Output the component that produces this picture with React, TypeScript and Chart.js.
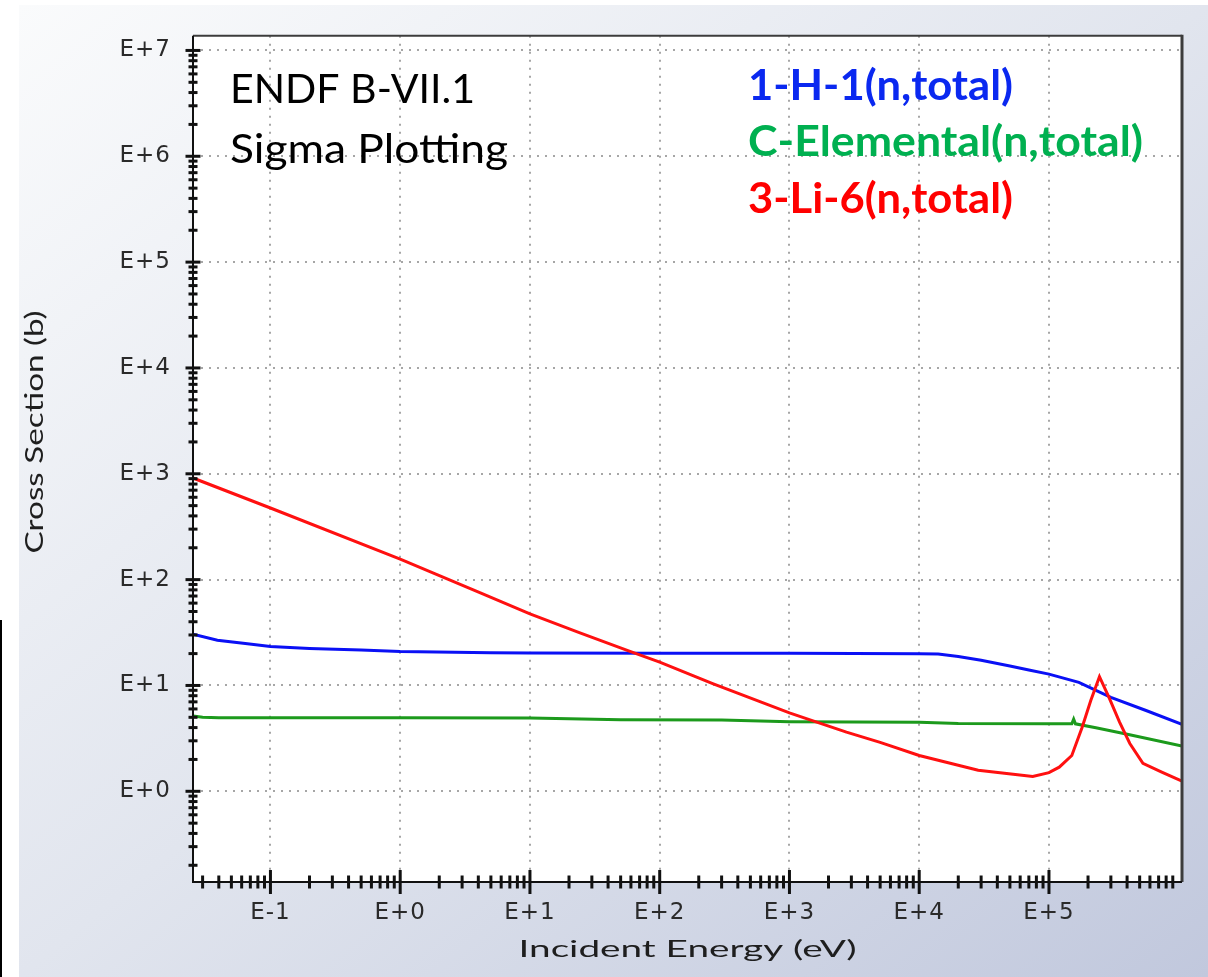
import React, { useEffect, useRef } from "react";
import { Chart, registerables } from "chart.js";

Chart.register(...registerables);

// ---- Data ----
const xTickExponents = [-1, 0, 1, 2, 3, 4, 5];
const yTickExponents = [0, 1, 2, 3, 4, 5, 6, 7];
const xMin = 0.0253;
const xMax = 1.06e6;
const yMin = 0.139;
const yMax = 1.375e7;

const h1Energy = [0.0253, 0.039, 0.064, 0.1, 0.2, 0.5, 1, 5, 10, 100, 1000, 10000, 14000, 20000, 30000, 50000, 70000, 100000, 170000, 300000, 560000, 1060000];
const h1Sigma = [30.5, 26.8, 24.9, 23.4, 22.4, 21.6, 20.9, 20.4, 20.3, 20.2, 20.1, 19.9, 19.8, 18.8, 17.3, 15.3, 14.0, 12.8, 10.7, 7.7, 5.8, 4.3];

const cEnergy = [0.0253, 0.03, 0.04, 1, 10, 20, 50, 300, 1000, 10000, 20000, 100000, 150000, 155000, 160000, 230000, 410000, 1060000];
const cSigma = [5.15, 5.0, 4.95, 4.95, 4.92, 4.85, 4.75, 4.72, 4.55, 4.5, 4.38, 4.34, 4.34, 4.8, 4.34, 3.98, 3.44, 2.68];

const li6Energy = [0.0253, 0.1, 1, 4.15, 10, 24, 59, 100, 256, 1000, 1500, 2750, 5000, 10000, 28500, 53000, 75000, 100000, 120000, 150000, 180000, 210000, 245000, 290000, 350000, 420000, 530000, 740000, 1060000];
const li6Sigma = [912, 475, 156, 75, 47.4, 31.6, 21, 16.6, 10.4, 5.5, 4.66, 3.62, 2.9, 2.18, 1.58, 1.45, 1.38, 1.5, 1.69, 2.18, 4.0, 7.2, 12.1, 7.7, 4.5, 2.83, 1.84, 1.52, 1.25];

const seriesLabels = ["1-H-1(n,total)", "C-Elemental(n,total)", "3-Li-6(n,total)"];
const lineColors = ["#0a10f5", "#1c9a1c", "#ff1010"];
const legendColors = ["#0a28f0", "#00b050", "#ff0000"];
const annotationLines = ["ENDF B-VII.1", "Sigma Plotting"];
const xTitle = "Incident Energy (eV)";
const yTitle = "Cross Section (b)";

const expLabel = (e: number) => "E" + (e >= 0 ? "+" : "") + e;

const toPoints = (xs: number[], ys: number[]) => xs.map((x, i) => ({ x, y: ys[i] }));

function logTicks(scale: any) {
  const out: { v: number; major: boolean }[] = [];
  const lo = Math.floor(Math.log10(scale.min));
  const hi = Math.ceil(Math.log10(scale.max));
  for (let d = lo; d <= hi; d++) {
    for (let m = 1; m <= 9; m++) {
      const v = m * Math.pow(10, d);
      if (v >= scale.min && v <= scale.max) out.push({ v, major: m === 1 });
    }
  }
  return out;
}

function drawStretched(
  ctx: CanvasRenderingContext2D,
  text: string,
  x: number,
  y: number,
  font: string,
  target: number,
  rotation: number,
  color: string,
  align: CanvasTextAlign
) {
  ctx.save();
  ctx.font = font;
  const w = ctx.measureText(text).width;
  ctx.translate(x, y);
  ctx.rotate(rotation);
  ctx.scale(target / w, 1);
  ctx.textAlign = align;
  ctx.textBaseline = "alphabetic";
  ctx.fillStyle = color;
  ctx.fillText(text, 0, 0);
  ctx.restore();
}

const decorPlugin = {
  id: "decor",
  beforeDraw(chart: any) {
    const { ctx, chartArea: a } = chart;
    ctx.save();
    ctx.fillStyle = "#ffffff";
    ctx.fillRect(a.left, a.top, a.right - a.left, a.bottom - a.top);
    ctx.restore();
    // slightly wider spacing for the tick labels drawn by the scales
    (ctx as any).letterSpacing = "1px";
  },
  afterDraw(chart: any) {
    const { ctx, chartArea: a, scales } = chart;
    (ctx as any).letterSpacing = "0px";
    const xs = scales.x;
    const ys = scales.y;
    ctx.save();
    // frame (top / right)
    ctx.strokeStyle = "#3c3c3c";
    ctx.lineWidth = 2;
    ctx.beginPath();
    ctx.moveTo(a.left, a.top);
    ctx.lineTo(a.right, a.top);
    ctx.stroke();
    ctx.lineWidth = 3;
    ctx.beginPath();
    ctx.moveTo(a.right, a.top - 1);
    ctx.lineTo(a.right, a.bottom);
    ctx.stroke();
    // axes
    ctx.strokeStyle = "#111111";
    ctx.lineWidth = 2;
    ctx.beginPath();
    ctx.moveTo(a.left, a.top);
    ctx.lineTo(a.left, a.bottom);
    ctx.lineTo(a.right, a.bottom);
    ctx.stroke();
    // ticks crossing the axes
    ctx.lineWidth = 3;
    for (const t of logTicks(xs)) {
      const px = xs.getPixelForValue(t.v);
      if (px > a.right - 4) continue;
      const h = t.major ? 12 : 6.5;
      ctx.beginPath();
      ctx.moveTo(px, a.bottom - h);
      ctx.lineTo(px, a.bottom + h);
      ctx.stroke();
    }
    for (const t of logTicks(ys)) {
      const py = ys.getPixelForValue(t.v);
      if (py < a.top + 3) continue;
      const w = t.major ? 7.5 : 4.5;
      ctx.beginPath();
      ctx.moveTo(a.left - w, py);
      ctx.lineTo(a.left + w, py);
      ctx.stroke();
    }
    ctx.restore();
    // annotation text
    drawStretched(ctx, annotationLines[0], 230, 103, "41px Lato", 245, 0, "#000000", "left");
    drawStretched(ctx, annotationLines[1], 230, 163, "41px Lato", 278, 0, "#000000", "left");
    // legend text
    const baselines = [100, 156, 213];
    const widths = [265, 395, 265];
    seriesLabels.forEach((s, i) => {
      drawStretched(ctx, s, 748, baselines[i], "bold 42px Lato", widths[i], 0, legendColors[i], "left");
    });
    // axis titles
    drawStretched(ctx, xTitle, (a.left + a.right) / 2, 957, "23px Lato", 338, 0, "#1e1e1e", "center");
    drawStretched(ctx, yTitle, 43, 432, "25px Lato", 243, -Math.PI / 2, "#1e1e1e", "center");
  },
};

export default function App() {
  const ref = useRef<HTMLCanvasElement>(null);
  useEffect(() => {
    const tickFont = { family: "DejaVu Sans", size: 23 };
    const chart = new Chart(ref.current as HTMLCanvasElement, {
      type: "line",
      data: {
        datasets: [
          { label: seriesLabels[2], data: toPoints(li6Energy, li6Sigma), borderColor: lineColors[2], backgroundColor: lineColors[2] },
          { label: seriesLabels[1], data: toPoints(cEnergy, cSigma), borderColor: lineColors[1], backgroundColor: lineColors[1] },
          { label: seriesLabels[0], data: toPoints(h1Energy, h1Sigma), borderColor: lineColors[0], backgroundColor: lineColors[0] },
        ],
      },
      options: {
        responsive: false,
        devicePixelRatio: 1,
        animation: false,
        events: [],
        elements: { point: { radius: 0 }, line: { borderWidth: 3, tension: 0 } },
        layout: { padding: { left: 0, right: 26, top: 33, bottom: 0 } },
        plugins: { legend: { display: false }, tooltip: { enabled: false } },
        scales: {
          x: {
            type: "logarithmic",
            min: xMin,
            max: xMax,
            afterBuildTicks: (s: any) => {
              s.ticks = xTickExponents.map((e) => ({ value: Math.pow(10, e) }));
            },
            afterFit: (s: any) => {
              s.height = 95;
            },
            grid: { color: "#a6a6a6", lineWidth: 2, drawTicks: false },
            border: { display: false, dash: [2, 6] },
            ticks: {
              autoSkip: false,
              maxRotation: 0,
              padding: 17,
              color: "#2a2a2a",
              font: tickFont,
              callback: (v: any) => expLabel(Math.round(Math.log10(Number(v)))),
            },
          },
          y: {
            type: "logarithmic",
            min: yMin,
            max: yMax,
            afterBuildTicks: (s: any) => {
              s.ticks = yTickExponents.map((e) => ({ value: Math.pow(10, e) }));
            },
            afterFit: (s: any) => {
              s.width = 193;
            },
            grid: { color: "#a6a6a6", lineWidth: 2, drawTicks: false },
            border: { display: false, dash: [2, 6] },
            ticks: {
              autoSkip: false,
              padding: 22,
              color: "#2a2a2a",
              font: tickFont,
              callback: (v: any) => expLabel(Math.round(Math.log10(Number(v)))),
            },
          },
        },
      },
      plugins: [decorPlugin],
    } as any);
    return () => chart.destroy();
  }, []);

  return (
    <div style={{ position: "fixed", left: 0, top: 0, width: 1208, height: 977, background: "#ffffff", overflow: "hidden" }}>
      <div
        style={{
          position: "absolute",
          left: 19,
          top: 5,
          right: 0,
          bottom: 0,
          background: "linear-gradient(to bottom right, #fafbfc 0%, #e1e5ee 50%, #c1c8dd 100%)",
        }}
      />
      <div style={{ position: "absolute", left: 0, top: 620, width: 2, height: 357, background: "#000000" }} />
      <canvas ref={ref} width={1208} height={977} style={{ position: "absolute", left: 0, top: 0, width: 1208, height: 977 }} />
    </div>
  );
}
